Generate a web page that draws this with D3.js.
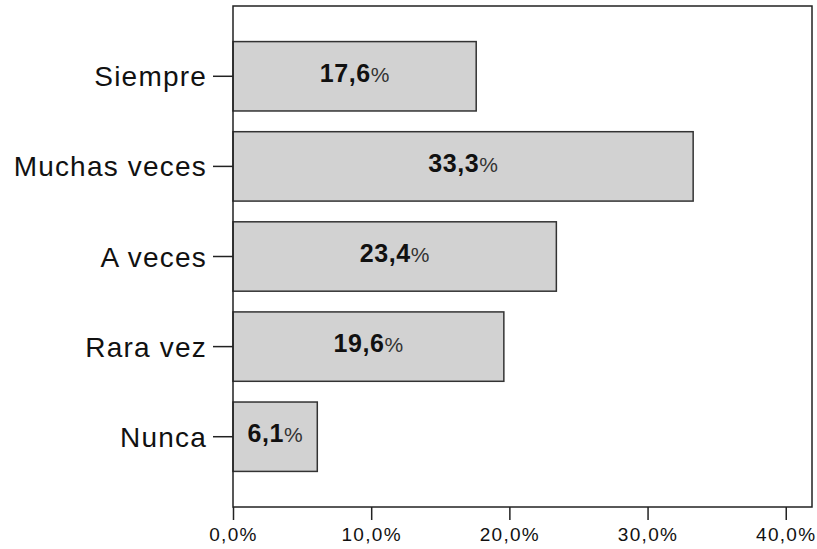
<!DOCTYPE html>
<html>
<head>
<meta charset="utf-8">
<script src="https://cdn.jsdelivr.net/npm/d3@7"></script>
<style>
  html, body { margin: 0; padding: 0; background: #fff; }
  svg { display: block; font-family: "Liberation Sans", Arial, sans-serif; }
</style>
</head>
<body>
<div id="chart"></div>
<script>
// Chart data
const categories = ["Siempre", "Muchas veces", "A veces", "Rara vez", "Nunca"];
const percents = [17.6, 33.3, 23.4, 19.6, 6.1];
const tickValues = [0, 10, 20, 30, 40];

(function() {
  const W = 817, H = 549;
  const left = 233, right = 812, top = 6, bottom = 507;

  const svg = d3.select("#chart")
    .append("svg")
    .attr("width", W)
    .attr("height", H);

  const x = d3.scaleLinear().domain([0, 41.9]).range([left, right]);
  const y = d3.scaleBand()
    .domain(categories)
    .range([top, bottom])
    .paddingInner(0.23)
    .paddingOuter(0.395);

  const fmt = v => v.toFixed(1).replace(".", ",");
  const rows = categories.map((c, i) => ({ cat: c, value: percents[i] }));

  // Bars
  svg.selectAll(".bar")
    .data(rows)
    .enter().append("rect")
    .attr("class", "bar")
    .attr("x", x(0))
    .attr("y", d => y(d.cat))
    .attr("width", d => x(d.value) - x(0))
    .attr("height", y.bandwidth())
    .attr("fill", "#d2d2d2")
    .attr("stroke", "#333")
    .attr("stroke-width", 1.5);

  // Bar labels
  const lab = svg.selectAll(".bar-label")
    .data(rows)
    .enter().append("text")
    .attr("class", "bar-label")
    .attr("x", d => (x(0) + x(d.value)) / 2)
    .attr("y", d => y(d.cat) + y.bandwidth() / 2)
    .attr("dy", "0.36em")
    .attr("text-anchor", "middle")
    .style("fill", "#111");

  lab.append("tspan")
    .style("font-size", "25px")
    .style("font-weight", "700")
    .style("letter-spacing", "0.6px")
    .text(d => fmt(d.value));
  lab.append("tspan")
    .style("font-size", "21px")
    .style("fill", "#333")
    .text("%");

  // Frame
  svg.append("rect")
    .attr("x", left)
    .attr("y", top)
    .attr("width", right - left)
    .attr("height", bottom - top)
    .attr("fill", "none")
    .attr("stroke", "#222")
    .attr("stroke-width", 1.5);

  // Y axis (categories)
  const yAxis = svg.append("g")
    .attr("transform", `translate(${left},0)`)
    .call(d3.axisLeft(y).tickSize(20).tickPadding(6));
  yAxis.select(".domain").remove();
  yAxis.selectAll(".tick line").attr("stroke", "#222").attr("stroke-width", 1.5);
  yAxis.selectAll(".tick text")
    .attr("fill", "#111")
    .attr("dy", "0.36em")
    .style("font-size", "28px")
    .style("letter-spacing", "1.2px")
    .style("font-family", "\"Liberation Sans\", Arial, sans-serif");

  // X axis
  const xAxis = svg.append("g")
    .attr("transform", `translate(0,${bottom})`)
    .call(d3.axisBottom(x).tickValues(tickValues).tickSize(13).tickPadding(8)
      .tickFormat(v => fmt(v) + "%"));
  xAxis.select(".domain").remove();
  xAxis.selectAll(".tick line").attr("stroke", "#222").attr("stroke-width", 1.5);
  xAxis.selectAll(".tick text")
    .attr("fill", "#111")
    .style("font-size", "19px")
    .style("letter-spacing", "1.3px")
    .style("font-family", "\"Liberation Sans\", Arial, sans-serif");
})();
</script>
</body>
</html>
